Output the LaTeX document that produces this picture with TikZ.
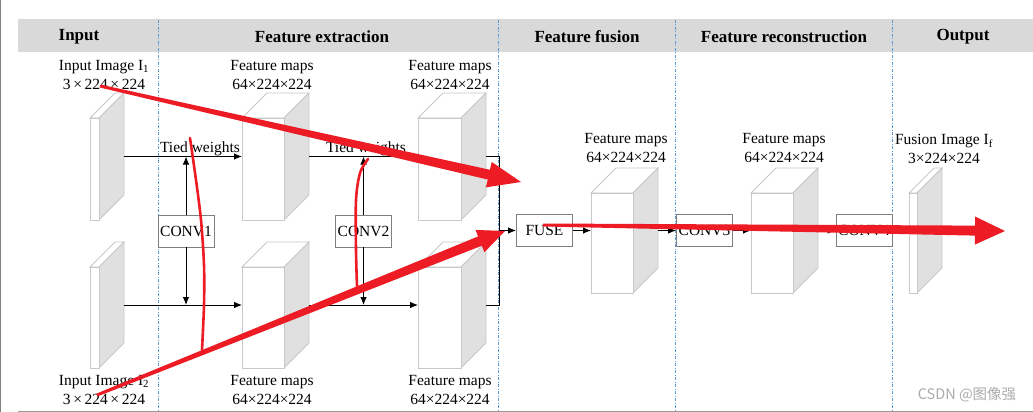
\documentclass[tikz,border=0pt]{standalone}
\usepackage{fontspec}
\setmainfont{Liberation Serif}
\newfontfamily\cjkf{Noto Sans CJK SC}
\usetikzlibrary{arrows.meta,calc}
\definecolor{hdrgray}{HTML}{D9D9D9}
\definecolor{sidegray}{HTML}{E0E0E0}
\definecolor{edgegray}{HTML}{C8C8C8}
\definecolor{boxgray}{HTML}{7F7F7F}
\definecolor{sepblue}{HTML}{5B9BD5}
\definecolor{annred}{HTML}{ED1C24}
\def\dd{25}
\newcommand\mycube[5]{%
  \filldraw[cubeedge,fill=white] (#2,#3) -- (#2+\dd,#3-\dd) -- (#4+\dd,#3-\dd) -- (#4,#3) -- cycle;
  \filldraw[cubeedge,fill=sidegray] (#4,#3) -- (#4+\dd,#3-\dd) -- (#4+\dd,#5-\dd) -- (#4,#5) -- cycle;
  \node[cubeedge,draw,fill=white,inner sep=0pt,outer sep=0pt,anchor=north west,
        minimum width={(#4-#2)*1pt},minimum height={(#5-#3)*1pt}] (#1) at (#2,#3) {};
  \coordinate (#1out) at (#4+\dd,{(#3+#5)/2-\dd/2});
}
\newcommand\redarr[6]{%
  \coordinate (#1b) at ($(#2)!#5!(#1)$);
  \fill[annred] ($(#1)!#3!90:(#2)$) -- ($(#1b)!#4!90:(#2)$) -- ($(#1b)!#6!90:(#2)$) -- (#2)
     -- ($(#1b)!#6!-90:(#2)$) -- ($(#1b)!#4!-90:(#2)$) -- ($(#1)!#3!-90:(#2)$) -- cycle;
}
\begin{document}
\begin{tikzpicture}[x=1pt,y=-1pt,
  cubeedge/.style={draw=edgegray,line width=0.8pt},
  lbl/.style={font=\fontsize{15.5}{19}\selectfont,align=center,inner sep=0pt},
  hdr/.style={font=\fontsize{17}{20}\selectfont\bfseries,inner sep=0pt},
  opbox/.style={draw=boxgray,line width=0.9pt,fill=white,minimum width=56pt,minimum height=32pt,inner sep=0pt,font=\fontsize{15.5}{19}\selectfont},
  conn/.style={line width=0.9pt,black},
  arr/.style={conn,-{Latex[length=8pt,width=6.5pt]}},
  sep/.style={draw=sepblue,line width=0.8pt,dash pattern=on 3pt off 1.5pt on 1pt off 1.5pt},
  annline/.style={draw=annred,line width=2.6pt,line cap=round,line join=round}]
\useasboundingbox (0,0) rectangle (1033,412);
\fill[white] (0,0) rectangle (1033,412);
% page edge and frame
\draw[gray,line width=1pt] (0.5,0) -- (0.5,412);
\fill[hdrgray] (18,19) rectangle (1033,52);
\draw[gray!80,line width=1pt] (18,411) -- (1033,411);
% separators
\foreach \sx in {158,498,675,892} \draw[sep] (\sx,20) -- (\sx,411);
% headers
\node[hdr] (hin) at (79,37) {Input};
\node[hdr] (hfe) at (322,37) {Feature extraction};
\node[hdr] (hff) at (587,37) {Feature fusion};
\node[hdr] (hfr) at (784,37) {Feature reconstruction};
\node[hdr] (hout) at (963,37) {Output};
% cubes
\mycube{i1}{90}{118}{99}{220}
\mycube{f1}{242}{118}{284}{220}
\mycube{f2}{418}{118}{461}{220}
\mycube{i2}{90}{267}{99}{368}
\mycube{f3}{242}{267}{284}{368}
\mycube{f4}{418}{267}{461}{368}
\mycube{ff}{591}{193}{633}{293}
\mycube{fr}{751}{193}{793}{293}
\mycube{ot}{909}{193}{917}{293}
% labels
\node[lbl] (li1) at (104,75) {Input Image I\textsubscript{1}\\3\,×\,224\,×\,224};
\node[lbl] (lf1) at (272,75) {Feature maps\\64×224×224};
\node[lbl] (lf2) at (450,75) {Feature maps\\64×224×224};
\node[lbl] (li2) at (104,390) {Input Image I\textsubscript{2}\\3\,×\,224\,×\,224};
\node[lbl] (lf3) at (272,390) {Feature maps\\64×224×224};
\node[lbl] (lf4) at (450,390) {Feature maps\\64×224×224};
\node[lbl] (lff) at (626,148) {Feature maps\\64×224×224};
\node[lbl] (lfr) at (784,148) {Feature maps\\64×224×224};
\node[lbl] (lot) at (944,149) {Fusion Image I\textsubscript{f}\\3×224×224};
% op boxes
\node[opbox] (conv1) at (186,231) {CONV1};
\node[opbox] (conv2) at (363.5,231) {CONV2};
\node[opbox] (fuse) at (544.5,230.5) {FUSE};
\node[opbox] (conv3) at (704.5,230.5) {CONV3};
\node[opbox] (conv4) at (864,230.5) {CONV4};
\node[lbl,anchor=base] (tw1) at (200,152) {Tied weights};
\node[lbl,anchor=base] (tw2) at (366,152) {Tied weights};
% connectors
\draw[arr] (i1out) -- (i1out -| f1.west);
\draw[arr] (f1out) -- (f1out -| f2.west);
\draw[arr] (i2out) -- (i2out -| f3.west);
\draw[arr] (f3out) -- (f3out -| f4.west);
\draw[arr] (conv1.north) -- (conv1.north |- i1out);
\draw[arr] (conv1.south) -- (conv1.south |- i2out);
\draw[arr] (conv2.north) -- (conv2.north |- f1out);
\draw[arr] (conv2.south) -- (conv2.south |- f3out);
\coordinate (mg) at (499,230.5);
\draw[conn] (f2out) -- (f2out -| mg) -- (f4out -| mg) -- (f4out);
\draw[arr] (mg) -- (fuse.west);
\draw[arr] (fuse.east) -- (fuse.east -| ff.west);
\draw[arr] (ffout) -- (ffout -| conv3.west);
\draw[arr] (conv3.east) -- (conv3.east -| fr.west);
\draw[arr] (frout) -- (frout -| conv4.west);
\draw[arr] (conv4.east) -- (conv4.east -| ot.west);
% watermark
\node[text=gray!65,font=\cjkf\fontsize{14.5}{15}\selectfont,inner sep=0pt] (wm) at (967,395) {CSDN @图像强};
% red annotations
\draw[annline] plot[smooth] coordinates {(190,138) (196,180) (201,220) (204,265) (204,305) (202,350)};
\draw[annline] plot[smooth] coordinates {(368,159) (360,173) (356,200) (356,250) (357,286)};
\coordinate (ra) at (100,86);
\coordinate (rat) at (521,182);
\coordinate (rb) at (97,395);
\coordinate (rbt) at (505,231);
\coordinate (rc) at (543,225);
\coordinate (rct) at (1005,231);
\redarr{ra}{rat}{1.5pt}{5pt}{33pt}{13pt}
\redarr{rb}{rbt}{1.5pt}{5pt}{27pt}{12pt}
\redarr{rc}{rct}{1.5pt}{5pt}{30pt}{14pt}
\end{tikzpicture}
\end{document}
